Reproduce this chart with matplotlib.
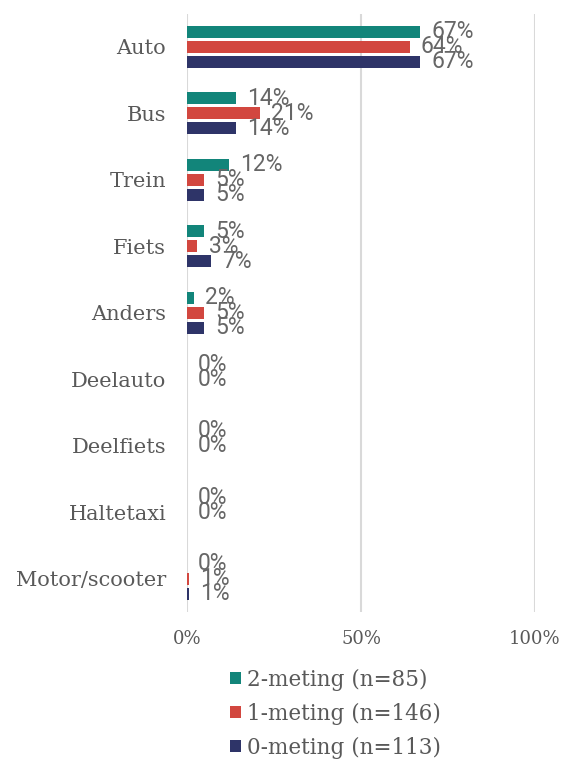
import numpy as np
import matplotlib.pyplot as plt
from matplotlib.ticker import PercentFormatter

# categorieen en percentages per meting
categories = ['Auto', 'Bus', 'Trein', 'Fiets', 'Anders',
              'Deelauto', 'Deelfiets', 'Haltetaxi', 'Motor/scooter']
meting_2 = [67, 14, 12, 5, 2, 0, 0, 0, 0]
meting_1 = [64, 21, 5, 3, 5, 0, 0, 0, 0.6]
meting_0 = [67, 14, 5, 7, 5, np.nan, np.nan, np.nan, 0.6]
series_labels = ['2-meting (n=85)', '1-meting (n=146)', '0-meting (n=113)']
colors = ['#12857a', '#d2473f', '#2e3468']

label_font = ['DejaVu Serif']
value_font = ['Roboto', 'DejaVu Sans']
grey = '#595959'

fig = plt.figure(figsize=(5.65, 7.62), dpi=100)
ax = fig.add_axes([0.331, 0.197, 0.616, 0.785])

y = np.arange(len(categories))
step = 0.225
bar_h = 0.18

for i, (vals, lab, col) in enumerate(zip([meting_2, meting_1, meting_0], series_labels, colors)):
    pos = y + (i - 1) * step
    vals = np.array(vals, dtype=float) / 100
    ax.barh(pos, vals, height=bar_h, color=col, label=lab, zorder=3)
    # waarde labels
    for p, v in zip(pos, vals):
        if np.isnan(v):
            continue
        ax.annotate(f'{round(v * 100):.0f}%', (v, p), xytext=(8, 0),
                    textcoords='offset points', va='center', ha='left',
                    fontsize=16.5, color='#666666', family=value_font, zorder=4)

ax.set_xlim(0, 1.0)
ax.set_ylim(len(categories) - 0.5, -0.5)
ax.set_yticks(y)
ax.set_yticklabels(categories, family=label_font, fontsize=15, color=grey)
ax.set_xticks([0, 0.5, 1.0])
ax.xaxis.set_major_formatter(PercentFormatter(1.0, decimals=0))
for t in ax.get_xticklabels():
    t.set_family(label_font)
    t.set_fontsize(13)
    t.set_color(grey)
ax.tick_params(axis='both', length=0)
ax.tick_params(axis='y', pad=15)
ax.tick_params(axis='x', pad=13)
ax.grid(axis='x', color='#d9d9d9', linewidth=1.5, zorder=0)
for s in ax.spines.values():
    s.set_visible(False)

leg = ax.legend(loc='upper left', bbox_to_anchor=(0.08, -0.07), frameon=False,
                prop={'family': label_font, 'size': 15.5}, handlelength=0.5,
                handleheight=0.5, handletextpad=0.3, labelspacing=0.55,
                borderpad=0.2)
for t in leg.get_texts():
    t.set_color(grey)

fig.savefig('out.png', dpi=100)
